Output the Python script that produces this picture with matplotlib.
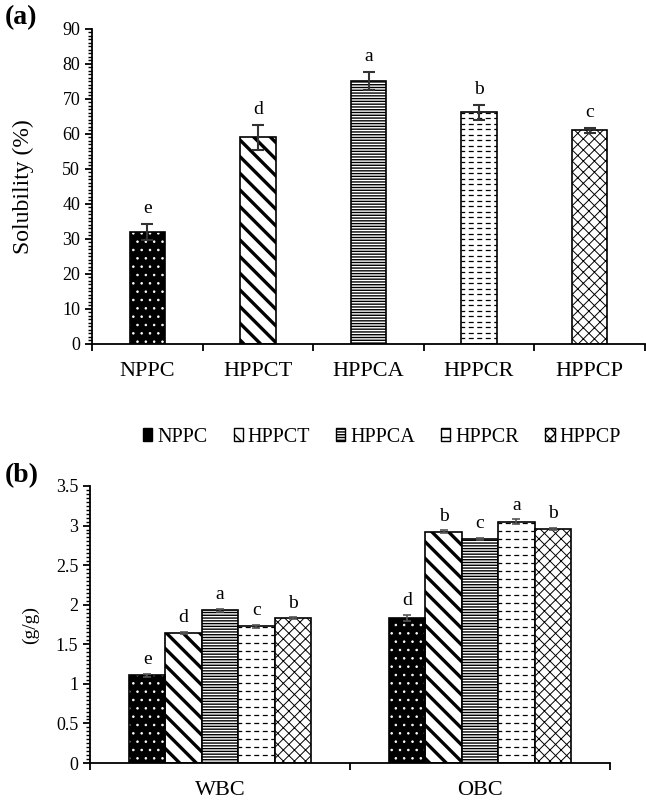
import numpy as np
import matplotlib
matplotlib.use("Agg")
import matplotlib.pyplot as plt
from matplotlib.patches import Patch
from matplotlib.ticker import MultipleLocator, FixedLocator, NullFormatter, FuncFormatter

plt.rcParams['font.family'] = ['Liberation Serif', 'DejaVu Serif']
plt.rcParams['hatch.linewidth'] = 1.0

samples = ["NPPC", "HPPCT", "HPPCA", "HPPCR", "HPPCP"]

# panel (a) solubility
solubility = [32.0, 59.0, 75.1, 66.2, 61.1]
solubility_err = [2.2, 3.6, 2.5, 2.1, 0.7]
solubility_letters = ["e", "d", "a", "b", "c"]

# panel (b) binding capacity
props = ["WBC", "OBC"]
binding = {
    "NPPC": [1.11, 1.83],
    "HPPCT": [1.64, 2.92],
    "HPPCA": [1.93, 2.83],
    "HPPCR": [1.73, 3.05],
    "HPPCP": [1.83, 2.96],
}
binding_err = {
    "NPPC": [0.02, 0.04],
    "HPPCT": [0.015, 0.02],
    "HPPCA": [0.02, 0.015],
    "HPPCR": [0.02, 0.03],
    "HPPCP": [0.01, 0.01],
}
binding_letters = {
    "NPPC": ["e", "d"],
    "HPPCT": ["d", "b"],
    "HPPCA": ["a", "c"],
    "HPPCR": ["c", "a"],
    "HPPCP": ["b", "b"],
}

# hatch style per sample: (facecolor, hatch, hatch line width)
styles = {
    "NPPC": ("black", "..", 0.6),
    "HPPCT": ("white", "\\\\", 2.4),
    "HPPCA": ("white", "------", 1.0),
    "HPPCR": ("white", "", 1.0),
    "HPPCP": ("white", "xxx", 0.7),
}


def draw_bar(ax, x, h, w, name, dash_gap=5.5):
    fc, hatch, hlw = styles[name]
    if name == "NPPC":
        b = ax.bar(x, h, w, color="black", edgecolor="white", hatch=hatch, linewidth=0, zorder=2)
        ax.bar(x, h, w, fill=False, edgecolor="black", linewidth=1.2, zorder=3)
    else:
        b = ax.bar(x, h, w, color=fc, edgecolor="black", hatch=hatch, linewidth=1.2, zorder=2)
    for p in b:
        if hasattr(p, "set_hatch_linewidth"):
            p.set_hatch_linewidth(hlw)
    if name == "HPPCR":
        # dashed horizontal fill drawn inside the bar
        y0, y1 = ax.get_ylim()
        px_per_unit = ax.bbox.height / (y1 - y0)
        step = dash_gap / px_per_unit
        ys = np.arange(step, h, step)
        for p in b:
            lines = ax.hlines(ys, x - w / 2, x + w / 2, colors="black", linewidth=0.9,
                              linestyles=(1, (4, 2.8)), zorder=2.5)
            lines.set_clip_path(p)
    return b


def style_axis(ax, nbound):
    for s in ["top", "right"]:
        ax.spines[s].set_visible(False)
    ax.spines["left"].set_linewidth(1.3)
    ax.spines["bottom"].set_linewidth(1.3)
    ax.xaxis.set_major_locator(FixedLocator(np.arange(nbound) - 0.5))
    ax.xaxis.set_major_formatter(NullFormatter())
    ax.tick_params(axis="x", which="major", direction="out", length=5, width=1.3)
    ax.tick_params(axis="x", which="minor", length=0, labelsize=16, pad=13)
    ax.tick_params(axis="y", which="major", direction="out", length=5, width=1.3, labelsize=13)
    ax.tick_params(axis="y", which="minor", direction="out", length=3, width=1.0)


fig = plt.figure(figsize=(6.46, 8.02), dpi=100)

# ---- panel (a)
ax1 = fig.add_axes([92 / 646, 1 - 344 / 802, 553 / 646, 315 / 802])
ax1.set_xlim(-0.5, 4.5)
ax1.set_ylim(0, 90)
ax1.yaxis.set_major_locator(MultipleLocator(10))
ax1.yaxis.set_minor_locator(MultipleLocator(1))
style_axis(ax1, 6)
ax1.set_xticks(np.arange(len(samples)), samples, minor=True)
for i, name in enumerate(samples):
    draw_bar(ax1, i, solubility[i], 0.32, name, dash_gap=5.5)
    ax1.errorbar(i, solubility[i], yerr=solubility_err[i], fmt="none", ecolor="#333333",
                 elinewidth=1.5, capsize=4, capthick=1.5, zorder=4)
    ax1.annotate(solubility_letters[i], (i, solubility[i] + solubility_err[i]),
                 xytext=(0, 5), textcoords="offset points", ha="center", va="bottom", fontsize=14)
ax1.set_ylabel("Solubility (%)", fontsize=17, labelpad=20)
fig.text(5 / 646, 1 - 18 / 802, "(a)", fontsize=20, fontweight="bold", va="center")

# ---- panel (b)
ax2 = fig.add_axes([90 / 646, 1 - 763 / 802, 520 / 646, 277 / 802])
ax2.set_xlim(-0.5, 1.5)
ax2.set_ylim(0, 3.5)
ax2.yaxis.set_major_locator(MultipleLocator(0.5))
ax2.yaxis.set_minor_locator(MultipleLocator(0.05))
ax2.yaxis.set_major_formatter(FuncFormatter(lambda v, _: f"{v:g}"))
style_axis(ax2, 3)
ax2.set_xticks(np.arange(len(props)), props, minor=True)
bw = 0.14
handles = []
for k, name in enumerate(samples):
    xs = np.arange(len(props)) + (k - 2) * bw
    for j in range(len(props)):
        draw_bar(ax2, xs[j], binding[name][j], bw, name, dash_gap=8)
        ax2.errorbar(xs[j], binding[name][j], yerr=binding_err[name][j], fmt="none",
                     ecolor="#555555", elinewidth=1.2, capsize=3, capthick=1.2, zorder=4)
        ax2.annotate(binding_letters[name][j], (xs[j], binding[name][j] + binding_err[name][j]),
                     xytext=(0, 4), textcoords="offset points", ha="center", va="bottom",
                     fontsize=14)
    fc, hatch, hlw = styles[name]
    if name == "NPPC":
        h = Patch(facecolor="black", edgecolor="black", hatch="", linewidth=1)
    elif name == "HPPCR":
        h = Patch(facecolor="white", edgecolor="black", hatch="--", linewidth=1)
    else:
        h = Patch(facecolor=fc, edgecolor="black", hatch=hatch, linewidth=1)
    handles.append(h)
ax2.set_ylabel("(g/g)", fontsize=14, labelpad=12)
fig.text(5 / 646, 1 - 476 / 802, "(b)", fontsize=20, fontweight="bold", va="center")

fig.legend(handles, samples, loc="center", bbox_to_anchor=(382 / 646, 1 - 437 / 802), ncol=5,
           frameon=False, fontsize=14.5, handlelength=0.45, handleheight=0.6, handletextpad=0.25,
           columnspacing=1.3)

fig.savefig("out.png", dpi=100)
